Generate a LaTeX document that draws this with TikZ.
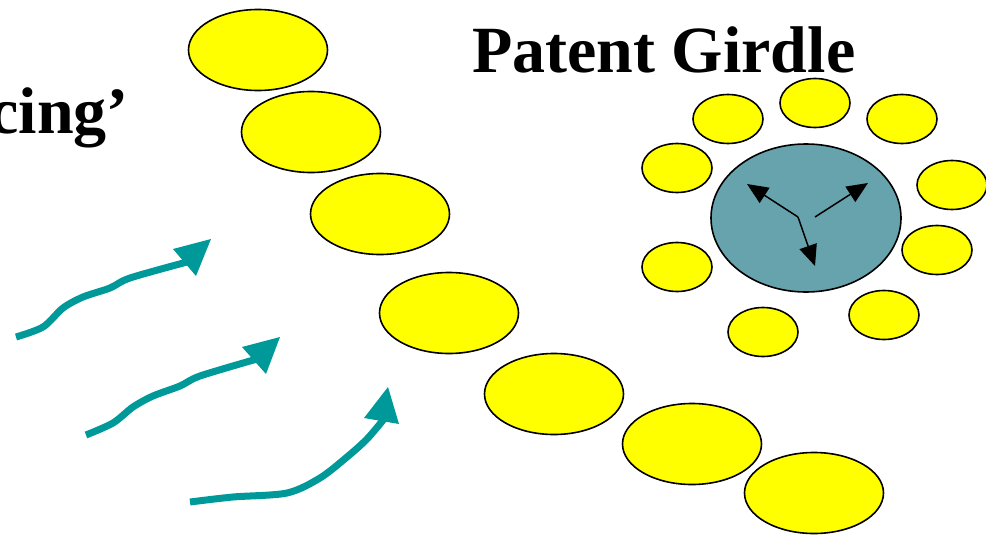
\documentclass[tikz,border=0pt]{standalone}
\usepackage{fontspec}
\setmainfont{Liberation Serif}
\usetikzlibrary{shapes.geometric,arrows.meta}
\definecolor{tealline}{RGB}{0,153,153}
\definecolor{tealfill}{RGB}{102,163,173}
\definecolor{yel}{RGB}{255,255,0}
\tikzset{
  bigcell/.style={ellipse,draw=black,line width=1.6pt,fill=yel,minimum width=139pt,minimum height=81pt,inner sep=0pt},
  smallcell/.style={ellipse,draw=black,line width=1.6pt,fill=yel,minimum width=70pt,minimum height=49pt,inner sep=0pt},
  nucleus/.style={ellipse,draw=black,line width=1.6pt,fill=tealfill,minimum width=190pt,minimum height=148pt,inner sep=0pt},
  flowline/.style={draw=tealline,line width=7pt},
  flowhead/.style={fill=tealline},
  pusharrow/.style={draw=black,line width=1.5pt,-{Triangle[length=21pt,width=18pt]}},
  bigtitle/.style={font=\bfseries\fontsize{66}{70}\selectfont,inner sep=0pt}
}
\begin{document}
\begin{tikzpicture}[x=1pt,y=-1pt]
\useasboundingbox (0,0) rectangle (986,538);
% titles
\node[bigtitle,anchor=base west] (title) at (472,72) {Patent Girdle};
\node[bigtitle,anchor=base east] (side) at (129,133) {cing’};
% chain of cells
\node[bigcell] (c1) at (258,50) {};
\node[bigcell] (c2) at (311,132) {};
\node[bigcell] (c3) at (380,214) {};
\node[bigcell] (c4) at (449,313) {};
\node[bigcell] (c5) at (554,394) {};
\node[bigcell] (c6) at (692,444) {};
\node[bigcell] (c7) at (814,493) {};
% girdle
\node[nucleus] (nuc) at (806,218) {};
\node[smallcell] (s1) at (728,119) {};
\node[smallcell] (s2) at (815,103) {};
\node[smallcell] (s3) at (902,119) {};
\node[smallcell] (s4) at (677,168) {};
\node[smallcell] (s5) at (952,185) {};
\node[smallcell] (s6) at (677,267) {};
\node[smallcell] (s7) at (937,250) {};
\node[smallcell] (s8) at (763,332) {};
\node[smallcell] (s9) at (884,315) {};
% arrows inside nucleus
\coordinate (j) at (798,217);
\coordinate (tA) at (747,184);
\coordinate (tB) at (815,266);
\coordinate (k) at (815,217);
\coordinate (tC) at (868,183);
\draw[pusharrow] (j) -- (tA);
\draw[pusharrow] (j) -- (tB);
\draw[pusharrow] (k) -- (tC);
% teal flow arrows
\draw[flowline] plot[smooth,tension=0.5] coordinates {(16,337) (43,327) (63,308) (83,297) (110,288) (130,278) (187,262)};
\coordinate (h1) at (211,239);
\fill[flowhead] (h1) -- (173,249) -- (196,276) -- cycle;
\draw[flowline] plot[smooth,tension=0.5] coordinates {(86,435) (113,423) (133,407) (153,396) (180,386) (200,376) (257,359)};
\coordinate (h2) at (280,337);
\fill[flowhead] (h2) -- (242,347) -- (266,374) -- cycle;
\draw[flowline] plot[smooth,tension=0.5] coordinates {(190,502) (233,497) (287,493) (320,478) (347,457) (367,439) (384,419)};
\coordinate (h3) at (388,387);
\fill[flowhead] (h3) -- (364,418) -- (399,424) -- cycle;
\end{tikzpicture}
\end{document}
